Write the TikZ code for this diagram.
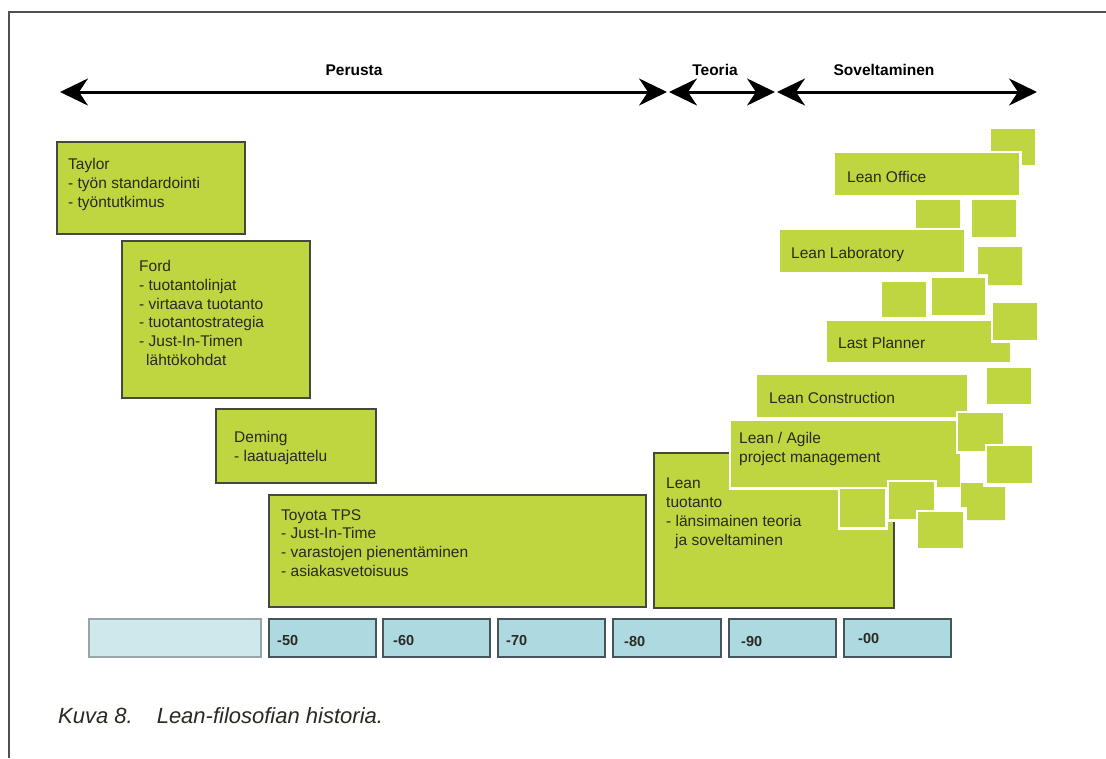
\documentclass[tikz,border=0pt]{standalone}
\usepackage{fontspec}
\setmainfont{Liberation Sans}
\usetikzlibrary{arrows.meta}
\definecolor{lgreen}{HTML}{BFD640}
\definecolor{lblue}{HTML}{ADDAE1}
\definecolor{lpale}{HTML}{CEE9EC}
\definecolor{bord}{HTML}{45483F}
\definecolor{tbord}{HTML}{46555A}
\definecolor{pbord}{HTML}{9AA3A5}
\definecolor{txt}{HTML}{2A2A22}
\definecolor{frm}{HTML}{505050}
\newcommand\rb[6]{\node[#2, minimum width=#5-#3, minimum height=#6-#4] (#1) at (#3,#4) {};}
\begin{document}
\begin{tikzpicture}[x=1pt,y=-1pt,
  gbox/.style={fill=lgreen, draw=bord, line width=1.4pt, inner sep=0pt, outer sep=0pt, anchor=north west},
  cbox/.style={fill=lgreen, preaction={draw=white, line width=5pt}, inner sep=0pt, outer sep=0pt, anchor=north west},
  tbox/.style={fill=lblue, draw=tbord, line width=1.4pt, inner sep=0pt, outer sep=0pt, anchor=north west},
  pbox/.style={fill=lpale, draw=pbord, line width=1.4pt, inner sep=0pt, outer sep=0pt, anchor=north west},
  btxt/.style={anchor=north west, inner sep=0pt, align=left, font=\fontsize{15.5}{18.8}\selectfont, text=txt},
  ytxt/.style={anchor=west, inner sep=0pt, font=\bfseries\fontsize{14.5}{16}\selectfont, text=txt},
  htxt/.style={inner sep=0pt, font=\bfseries\fontsize{15.5}{18}\selectfont, text=black},
  harrow/.style={line width=3pt, {Stealth[length=28pt,width=27pt,inset=9pt]}-{Stealth[length=28pt,width=27pt,inset=9pt]}}
]
\useasboundingbox (0,0) rectangle (1106,758);
\fill[white] (0,0) rectangle (1106,758);
\draw[frm, line width=1.5pt] (9,758) -- (9,12) -- (1106,12);

% header arrows
\coordinate (a1l) at (60,92);
\coordinate (a1r) at (667,92);
\coordinate (a2l) at (669,92);
\coordinate (a2r) at (775,92);
\coordinate (a3l) at (777,92);
\coordinate (a3r) at (1037,92);
\draw[harrow] (a1l) -- (a1r);
\draw[harrow] (a2l) -- (a2r);
\draw[harrow] (a3l) -- (a3r);
\node[htxt] (lper) at (354,70) {Perusta};
\node[htxt] (lteo) at (715,70) {Teoria};
\node[htxt] (lsov) at (884,70) {Soveltaminen};

% left boxes
\rb{taylor}{gbox}{57}{142}{245}{234}
\node[btxt] (ttaylor) at (68,158) {Taylor\\- työn standardointi\\- työntutkimus};
\rb{ford}{gbox}{122}{241}{310}{398}
\node[btxt] (tford) at (139,260) {Ford\\- tuotantolinjat\\- virtaava tuotanto\\- tuotantostrategia\\- Just-In-Timen\\\hspace*{7pt}lähtökohdat};
\rb{deming}{gbox}{216}{409}{376}{483}
\node[btxt] (tdeming) at (234,431) {Deming\\- laatuajattelu};
\rb{toyota}{gbox}{269}{495}{646}{607}
\node[btxt] (ttoyota) at (281,509) {Toyota TPS\\- Just-In-Time\\- varastojen pienentäminen\\- asiakasvetoisuus};
\rb{leant}{gbox}{654}{453}{894}{608}
\node[btxt] (tleant) at (666,478) {Lean\\tuotanto\\- länsimainen teoria\\\hspace*{9pt}ja soveltaminen};

% right cluster
\rb{s1}{cbox}{991}{129}{1035}{165}
\rb{office}{cbox}{835}{153}{1019}{195}
\node[btxt] (toffice) at (847,171) {Lean Office};
\rb{s2}{cbox}{916}{200}{960}{240}
\rb{s3}{cbox}{972}{200}{1016}{237}
\rb{lab}{cbox}{780}{230}{964}{272}
\node[btxt] (tlab) at (791,247) {Lean Laboratory};
\fill[lgreen] (978,247) -- (1022,247) -- (1022,285) -- (988,285) -- (988,274) -- (978,274) -- cycle;
\rb{s5}{cbox}{882}{282}{926}{317}
\rb{s6}{cbox}{932}{278}{985}{315}
\rb{planner}{cbox}{827}{321}{1010}{362}
\node[btxt] (tplanner) at (838,337) {Last Planner};
\rb{s7}{cbox}{993}{303}{1037}{340}
\rb{s8}{cbox}{987}{368}{1031}{404}
\rb{constr}{cbox}{757}{375}{967}{417}
\node[btxt] (tconstr) at (769,392) {Lean Construction};
\rb{agile}{cbox}{731}{421}{960}{487}
\node[btxt] (tagile) at (739,432) {Lean / Agile\\project management};
\rb{s9}{cbox}{958}{413}{1003}{451}
\rb{s10}{cbox}{987}{446}{1032}{483}
\rb{s11}{cbox}{840}{489}{885}{527}
\rb{s12}{cbox}{889}{482}{934}{519}
\rb{s13}{cbox}{918}{512}{963}{548}
\fill[lgreen] (961,483) -- (983,483) -- (983,487) -- (1005,487) -- (1005,520) -- (967,520) -- (967,507) -- (961,507) -- cycle;

% timeline
\rb{y0}{pbox}{89}{619}{261}{657}
\rb{y50}{tbox}{269}{619}{376}{657}
\rb{y60}{tbox}{383}{619}{490}{657}
\rb{y70}{tbox}{498}{619}{605}{657}
\rb{y80}{tbox}{613}{619}{721}{657}
\rb{y90}{tbox}{729}{619}{836}{657}
\rb{y00}{tbox}{844}{619}{951}{657}
\node[ytxt] (t50) at (277,640) {-50};
\node[ytxt] (t60) at (393,640) {-60};
\node[ytxt] (t70) at (506,640) {-70};
\node[ytxt] (t80) at (624,641) {-80};
\node[ytxt] (t90) at (741,641) {-90};
\node[ytxt] (t00) at (858,638) {-00};

% caption
\node[anchor=base west, inner sep=0pt, font=\itshape\fontsize{22}{26}\selectfont, text=txt] (cap) at (58,723) {Kuva 8.\hspace{24pt}Lean-filosofian historia.};
\end{tikzpicture}
\end{document}
